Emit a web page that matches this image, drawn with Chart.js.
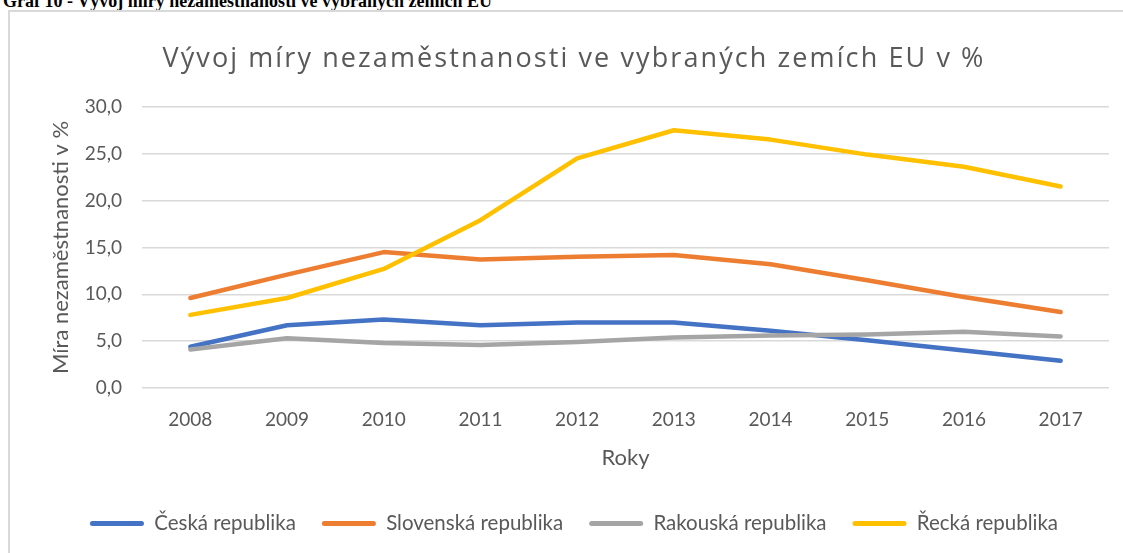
<!DOCTYPE html>
<html lang="cs">
<head>
<meta charset="utf-8">
<title>Vývoj míry nezaměstnanosti</title>
<script src="https://cdn.jsdelivr.net/npm/chart.js@4.4.1/dist/chart.umd.min.js"></script>
<style>
    html, body { margin: 0; padding: 0; background: #fff; width: 1123px; height: 553px; overflow: hidden; }
    #caption { position: absolute; left: 3px; top: -8px; font: bold 18px/18px "Liberation Serif", serif; color: #000; white-space: nowrap; }
    #box { position: absolute; left: 8px; top: 10px; width: 1128px; height: 541px; border: 2px solid #d9d9d9; }
</style>
</head>
<body>
<div id="caption">Graf 10 - Vývoj míry nezaměstnanosti ve vybraných zemích EU</div>
<div id="box"><canvas id="unemployment-chart"></canvas></div>
<script>
var years = ['2008', '2009', '2010', '2011', '2012', '2013', '2014', '2015', '2016', '2017'];
var seriesNames = ['Česká republika', 'Slovenská republika', 'Rakouská republika', 'Řecká republika'];
var seriesColors = ['#4472C4', '#ED7D31', '#A5A5A5', '#FFC000'];

var ceskaRepublika = [4.4, 6.7, 7.3, 6.7, 7.0, 7.0, 6.1, 5.1, 4.0, 2.9];
var slovenskaRepublika = [9.6, 12.1, 14.5, 13.7, 14.0, 14.2, 13.2, 11.5, 9.7, 8.1];
var rakouskaRepublika = [4.1, 5.3, 4.8, 4.6, 4.9, 5.4, 5.6, 5.7, 6.0, 5.5];
var reckaRepublika = [7.8, 9.6, 12.7, 17.9, 24.5, 27.5, 26.5, 24.9, 23.6, 21.5];

var yMin = 0;
var yMax = 30;
var yStep = 5;

var textColor = '#595959';
var fontFamily = 'Lato, "Open Sans", sans-serif';

var allSeries = [ceskaRepublika, slovenskaRepublika, rakouskaRepublika, reckaRepublika];

var datasets = allSeries.map(function (values, i) {
    return {
        label: seriesNames[i],
        data: values,
        yAxisID: 'y',
        borderColor: seriesColors[i],
        backgroundColor: seriesColors[i],
        borderWidth: 4.5,
        borderCapStyle: 'round',
        borderJoinStyle: 'round',
        pointRadius: 0,
        tension: 0,
        // later series on top, like Excel
        order: allSeries.length - 1 - i
    };
});

// the Excel title is set wider than the canvas font, so space the letters a bit
var titleSpacing = {
    id: 'titleSpacing',
    afterLayout: function (chart) {
        var block = chart.titleBlock;
        if (!block || block._spaced) {
            return;
        }
        var draw = block.draw.bind(block);
        block.draw = function () {
            chart.ctx.save();
            chart.ctx.letterSpacing = '2.1px';
            draw();
            chart.ctx.restore();
        };
        block._spaced = true;
    }
};

new Chart(document.getElementById('unemployment-chart'), {
    type: 'line',
    data: {
        labels: years,
        datasets: datasets
    },
    plugins: [titleSpacing],
    options: {
        responsive: true,
        maintainAspectRatio: false,
        animation: false,
        layout: {
            padding: { left: 0, right: 0, top: 0, bottom: 9.25 }
        },
        scales: {
            x: {
                offset: true,
                grid: { display: false },
                border: { display: false },
                ticks: {
                    color: textColor,
                    padding: 12,
                    font: { family: fontFamily, size: 19 }
                },
                title: {
                    display: true,
                    text: 'Roky',
                    color: textColor,
                    font: { family: fontFamily, size: 22 },
                    padding: { top: 0, bottom: 16 }
                },
                afterFit: function (scale) {
                    scale.height = 99.25;
                }
            },
            y: {
                min: yMin,
                max: yMax,
                grid: {
                    color: '#d9d9d9',
                    lineWidth: 1.5,
                    drawTicks: false
                },
                border: { display: false },
                ticks: {
                    stepSize: yStep,
                    color: textColor,
                    padding: 20,
                    font: { family: fontFamily, size: 19 },
                    callback: function (value) {
                        return value.toFixed(1).replace('.', ',');
                    }
                },
                title: {
                    display: true,
                    text: 'Míra nezaměstnanosti v %',
                    color: textColor,
                    font: { family: fontFamily, size: 22 },
                    padding: { top: 38, bottom: 0 }
                },
                afterFit: function (scale) {
                    scale.width = 132;
                }
            },
            yRight: {
                position: 'right',
                grid: { display: false, drawTicks: false },
                border: { display: false },
                ticks: { display: false },
                afterFit: function (scale) {
                    scale.width = 29;
                }
            }
        },
        plugins: {
            title: {
                display: true,
                text: 'Vývoj míry nezaměstnanosti ve vybraných zemích EU v %',
                color: textColor,
                font: { family: '"Open Sans", Lato, sans-serif', size: 27, weight: 'normal' },
                padding: { top: 30.8, bottom: 31.6 }
            },
            legend: {
                position: 'bottom',
                labels: {
                    color: textColor,
                    font: { family: fontFamily, size: 20.5 },
                    boxWidth: 54,
                    boxHeight: 5,
                    padding: 26,
                    useBorderRadius: true,
                    borderRadius: 2.5,
                    sort: function (a, b) {
                        return a.datasetIndex - b.datasetIndex;
                    },
                    generateLabels: function (chart) {
                        var items = Chart.defaults.plugins.legend.labels.generateLabels(chart);
                        items.forEach(function (item) {
                            item.lineWidth = 0;
                            item.fillStyle = item.strokeStyle;
                        });
                        return items;
                    }
                }
            },
            tooltip: { enabled: false }
        }
    }
});
</script>
</body>
</html>
